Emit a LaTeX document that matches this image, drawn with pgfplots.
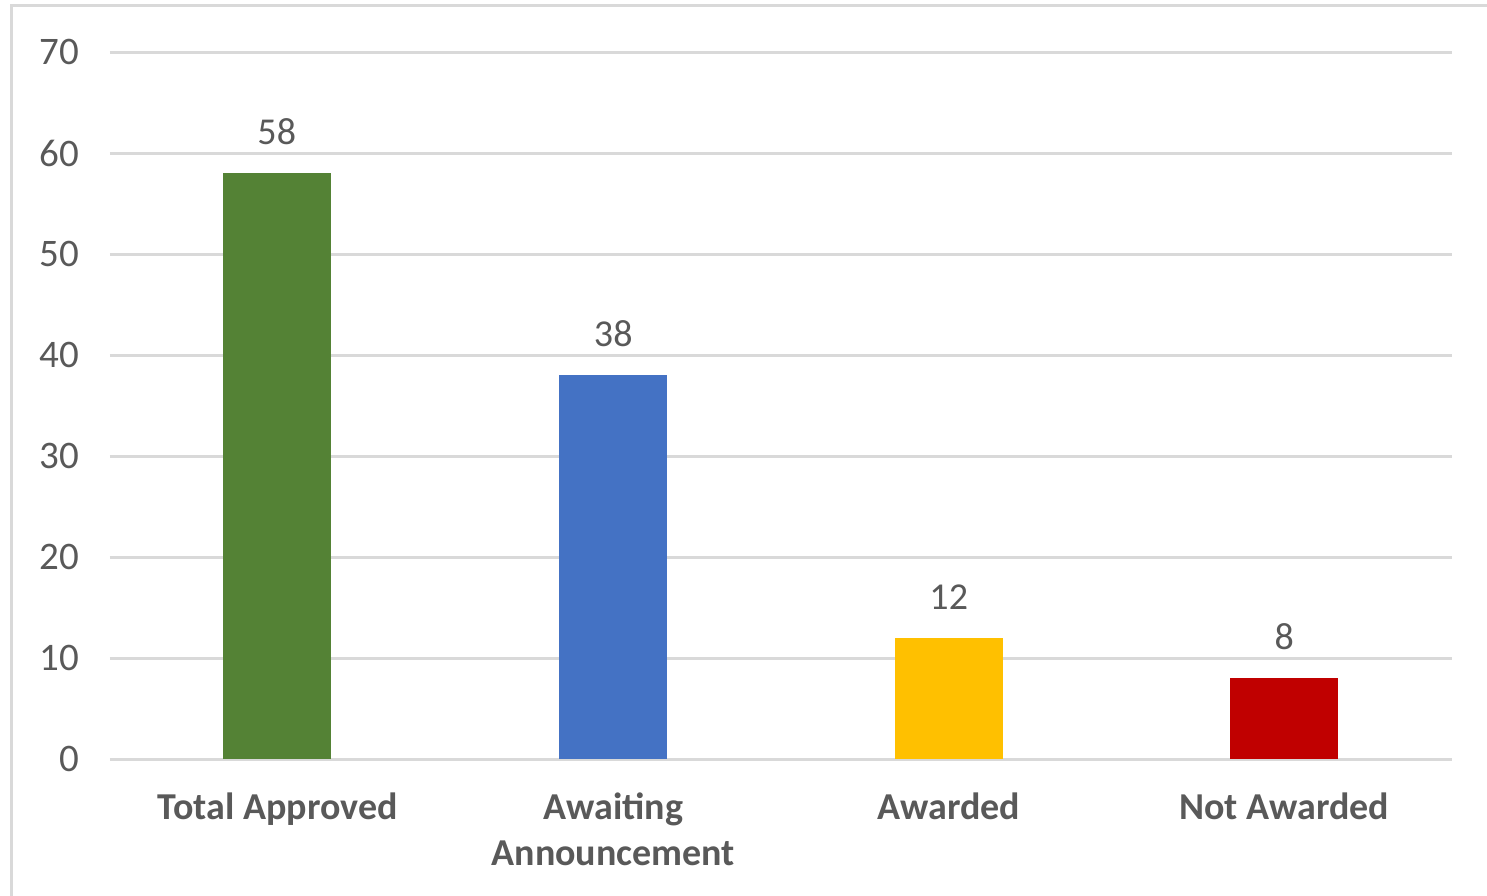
\documentclass[border=0pt]{standalone}
\usepackage{fontspec}
\setmainfont{Carlito}
\usepackage{pgfplots}
\pgfplotsset{compat=1.18}
\definecolor{cgreen}{HTML}{548235}
\definecolor{cblue}{HTML}{4472C4}
\definecolor{cyellow}{HTML}{FFC000}
\definecolor{cred}{HTML}{C00000}
\definecolor{gridgray}{HTML}{D9D9D9}
\definecolor{framegray}{HTML}{D9D9D9}
\definecolor{txtgray}{HTML}{595959}
\begin{document}
\begin{tikzpicture}
\useasboundingbox (0,0) rectangle (743.5pt,447.5pt);
\draw[color=framegray, line width=1.5pt] (5.5pt,-2pt) -- (5.5pt,444.5pt) -- (746pt,444.5pt);
\begin{axis}[
  at={(55pt,68pt)}, anchor=south west, scale only axis,
  width=671pt, height=353.5pt,
  xmin=-0.5, xmax=3.5, ymin=0, ymax=70,
  ytick={0,10,...,70},
  xtick={0,1,2,3},
  xticklabels={Total Approved, {Awaiting\\Announcement}, Awarded, Not Awarded},
  xticklabel style={align=center, font=\bfseries\fontsize{19}{23}\selectfont, text=txtgray, yshift=-13.5pt},
  yticklabel style={font=\fontsize{19.5}{23}\selectfont, text=txtgray, xshift=-12pt},
  /pgf/number format/assume math mode=true,
  axis line style={draw=none},
  major tick length=0pt,
  ymajorgrids,
  major grid style={draw=gridgray, line width=1.5pt},
  ybar, bar width=54pt,
  nodes near coords,
  every node near coord/.append style={font=\fontsize{19}{22}\selectfont, text=txtgray, yshift=10.5pt},
  clip=false,
]
\addplot[fill=cgreen, draw=none, bar shift=-0.5pt] coordinates {(0,58)};
\addplot[fill=cblue, draw=none, bar shift=0pt] coordinates {(1,38)};
\addplot[fill=cyellow, draw=none, bar shift=0pt] coordinates {(2,12)};
\addplot[fill=cred, draw=none, bar shift=0pt] coordinates {(3,8)};
\end{axis}
\end{tikzpicture}
\end{document}
